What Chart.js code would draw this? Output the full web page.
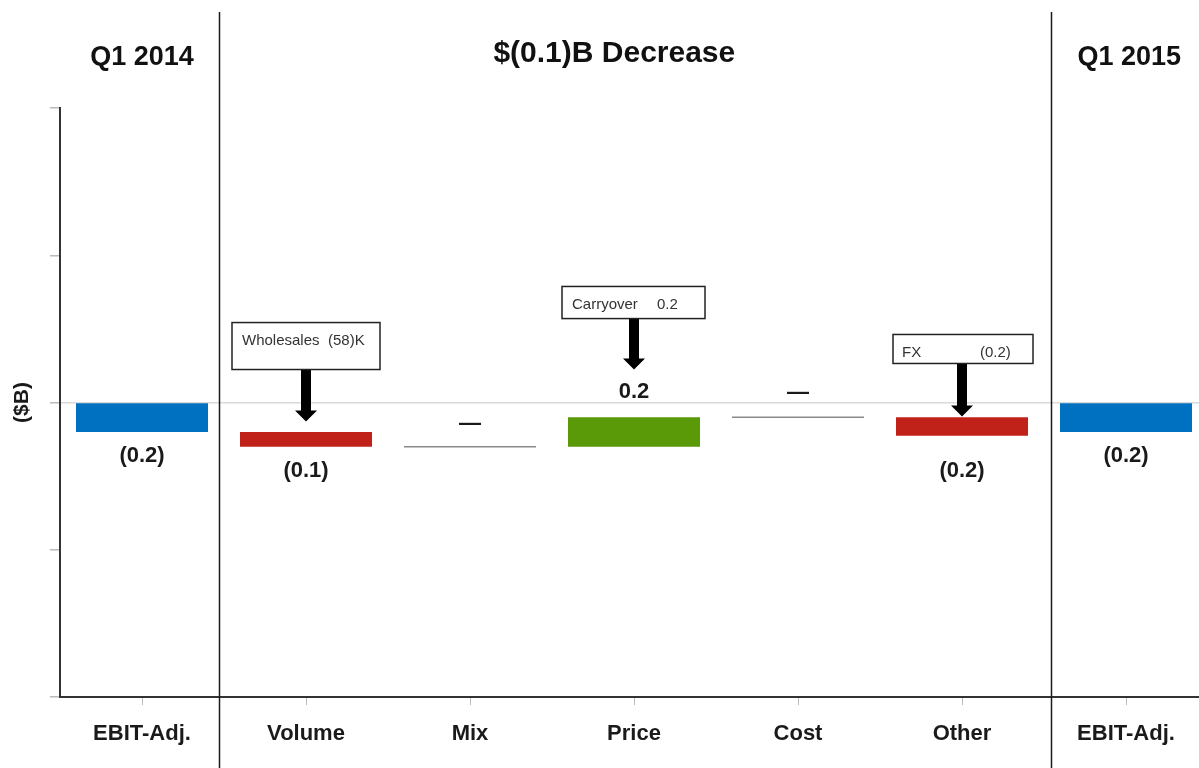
<!DOCTYPE html>
<html>
<head>
<meta charset="utf-8">
<script src="https://cdn.jsdelivr.net/npm/chart.js@4/dist/chart.umd.min.js"></script>
<style>
  html, body { margin: 0; padding: 0; background: #fff; overflow: hidden; }
  #wrap { position: absolute; left: 0; top: 0; width: 1208px; height: 768px; }
</style>
</head>
<body>
<div id="wrap"><canvas id="c"></canvas></div>
<script>
// ---- data ----
const categories = ['EBIT-Adj.', 'Volume', 'Mix', 'Price', 'Cost', 'Other', 'EBIT-Adj.'];
const barStart   = [0, -0.2, -0.3, -0.3, -0.1, -0.1, 0];
const barEnd     = [-0.2, -0.3, -0.3, -0.1, -0.1, -0.225, -0.2];
const valueLabels = ['(0.2)', '(0.1)', '\u2014', '0.2', '\u2014', '(0.2)', '(0.2)'];
const headerTexts = ['Q1 2014', '$(0.1)B Decrease', 'Q1 2015'];
const calloutTexts = [
  ['Wholesales', '(58)K'],
  ['Carryover', '0.2'],
  ['FX', '(0.2)']
];
const yTickValues = [-2, -1, 0, 1, 2];

// ---- styles / layout (not data) ----
const FONT = '"Liberation Sans", Arial, sans-serif';
const barColors = ['#0070C0', '#C0221A', '#888888', '#5A9A08', '#888888', '#C0221A', '#0070C0'];
const labelOffsets = [24, 24, -23, -25, -24, 35, 24];
const headerStyle = [
  { at: 0, y: 65, size: 27 },
  { at: 2.88, y: 62, size: 30 },
  { at: 6.02, y: 65, size: 27 }
];
const separatorsAt = [0.47, 5.54];
const calloutStyle = [
  { cat: 1, top: 0.543, bottom: 0.224, tip: -0.129, left: -74, right: 74, dx: [10, 96] },
  { cat: 3, top: 0.788, bottom: 0.570, tip: 0.224, left: -72, right: 71, dx: [10, 95] },
  { cat: 5, top: 0.462, bottom: 0.265, tip: -0.095, left: -69, right: 71, dx: [9, 87] }
];

const overlay = {
  id: 'overlay',
  afterDatasetsDraw(chart) {
    const ctx = chart.ctx;
    const xs = chart.scales.x, ys = chart.scales.y;
    const meta = chart.getDatasetMeta(0);
    ctx.save();
    // zero-change items: thin gray line
    meta.data.forEach((el, i) => {
      if (barStart[i] === barEnd[i]) {
        const y = ys.getPixelForValue(barEnd[i]);
        ctx.strokeStyle = '#8a8a8a';
        ctx.lineWidth = 1.5;
        ctx.beginPath();
        ctx.moveTo(el.x - el.width / 2, y);
        ctx.lineTo(el.x + el.width / 2, y);
        ctx.stroke();
      }
    });
    // value labels
    ctx.font = 'bold 22px ' + FONT;
    ctx.fillStyle = '#1a1a1a';
    ctx.textAlign = 'center';
    ctx.textBaseline = 'middle';
    meta.data.forEach((el, i) => {
      let ref;
      if (barEnd[i] < barStart[i]) ref = Math.min(barStart[i], barEnd[i]);
      else ref = Math.max(barStart[i], barEnd[i]);
      const y = ys.getPixelForValue(ref) + labelOffsets[i];
      ctx.fillText(valueLabels[i], el.x, y);
    });
    // separators
    ctx.strokeStyle = '#1a1a1a';
    ctx.lineWidth = 1.5;
    separatorsAt.forEach(v => {
      const x = Math.round(xs.getPixelForValue(v)) + 0.5;
      ctx.beginPath();
      ctx.moveTo(x, 12);
      ctx.lineTo(x, chart.height);
      ctx.stroke();
    });
    // headers
    ctx.fillStyle = '#111';
    ctx.textBaseline = 'alphabetic';
    headerTexts.forEach((t, i) => {
      const s = headerStyle[i];
      ctx.font = 'bold ' + s.size + 'px ' + FONT;
      ctx.fillText(t, xs.getPixelForValue(s.at), s.y);
    });
    // callouts
    calloutStyle.forEach((c, i) => {
      const cx = xs.getPixelForValue(c.cat);
      const top = ys.getPixelForValue(c.top);
      const bottom = ys.getPixelForValue(c.bottom);
      const tip = ys.getPixelForValue(c.tip);
      const headH = 11, headW = 22, shaftW = 10;
      ctx.fillStyle = '#000';
      ctx.beginPath();
      ctx.moveTo(cx - shaftW / 2, bottom);
      ctx.lineTo(cx + shaftW / 2, bottom);
      ctx.lineTo(cx + shaftW / 2, tip - headH);
      ctx.lineTo(cx + headW / 2, tip - headH);
      ctx.lineTo(cx, tip);
      ctx.lineTo(cx - headW / 2, tip - headH);
      ctx.lineTo(cx - shaftW / 2, tip - headH);
      ctx.closePath();
      ctx.fill();
      const l = cx + c.left, r = cx + c.right;
      ctx.fillStyle = '#fff';
      ctx.fillRect(l, top, r - l, bottom - top);
      ctx.strokeStyle = '#222';
      ctx.lineWidth = 1.5;
      ctx.strokeRect(l, top, r - l, bottom - top);
      ctx.fillStyle = '#333';
      ctx.font = '15px ' + FONT;
      ctx.textAlign = 'left';
      ctx.textBaseline = 'middle';
      calloutTexts[i].forEach((t, k) => {
        ctx.fillText(t, l + c.dx[k], top + 18);
      });
      ctx.textAlign = 'center';
    });
    ctx.restore();
  }
};

new Chart(document.getElementById('c'), {
  type: 'bar',
  data: {
    labels: categories,
    datasets: [{
      data: categories.map((c, i) => [barStart[i], barEnd[i]]),
      backgroundColor: barColors,
      borderWidth: 0,
      barPercentage: 0.805,
      categoryPercentage: 1.0
    }]
  },
  options: {
    responsive: true,
    maintainAspectRatio: false,
    animation: false,
    layout: { padding: { top: 108, left: 0, right: 0, bottom: 0 } },
    plugins: { legend: { display: false }, tooltip: { enabled: false }, title: { display: false } },
    scales: {
      x: {
        type: 'category',
        offset: true,
        grid: { display: true, drawOnChartArea: false, offset: false, tickLength: 8, tickColor: '#bbbbbb', lineWidth: 1 },
        border: { color: '#333', width: 2 },
        ticks: { font: { family: FONT, size: 22, weight: 'bold' }, color: '#1a1a1a', padding: 16, maxRotation: 0, autoSkip: false },
        afterFit: s => { s.height = 71; }
      },
      y: {
        min: -2, max: 2,
        afterBuildTicks: s => { s.ticks = yTickValues.map(v => ({ value: v })); },
        ticks: { display: false },
        grid: {
          drawOnChartArea: true,
          color: c => (c.tick && c.tick.value === 0 ? '#d9d9d9' : 'rgba(0,0,0,0)'),
          tickColor: '#bbbbbb',
          tickLength: 10,
          lineWidth: 1.5
        },
        border: { color: '#333', width: 2 },
        title: { display: true, text: '($B)', font: { family: FONT, size: 21, weight: 'bold' }, color: '#1a1a1a', padding: { top: 10, bottom: 0 } },
        afterFit: s => { s.width = 60; }
      }
    }
  },
  plugins: [overlay]
});
</script>
</body>
</html>
